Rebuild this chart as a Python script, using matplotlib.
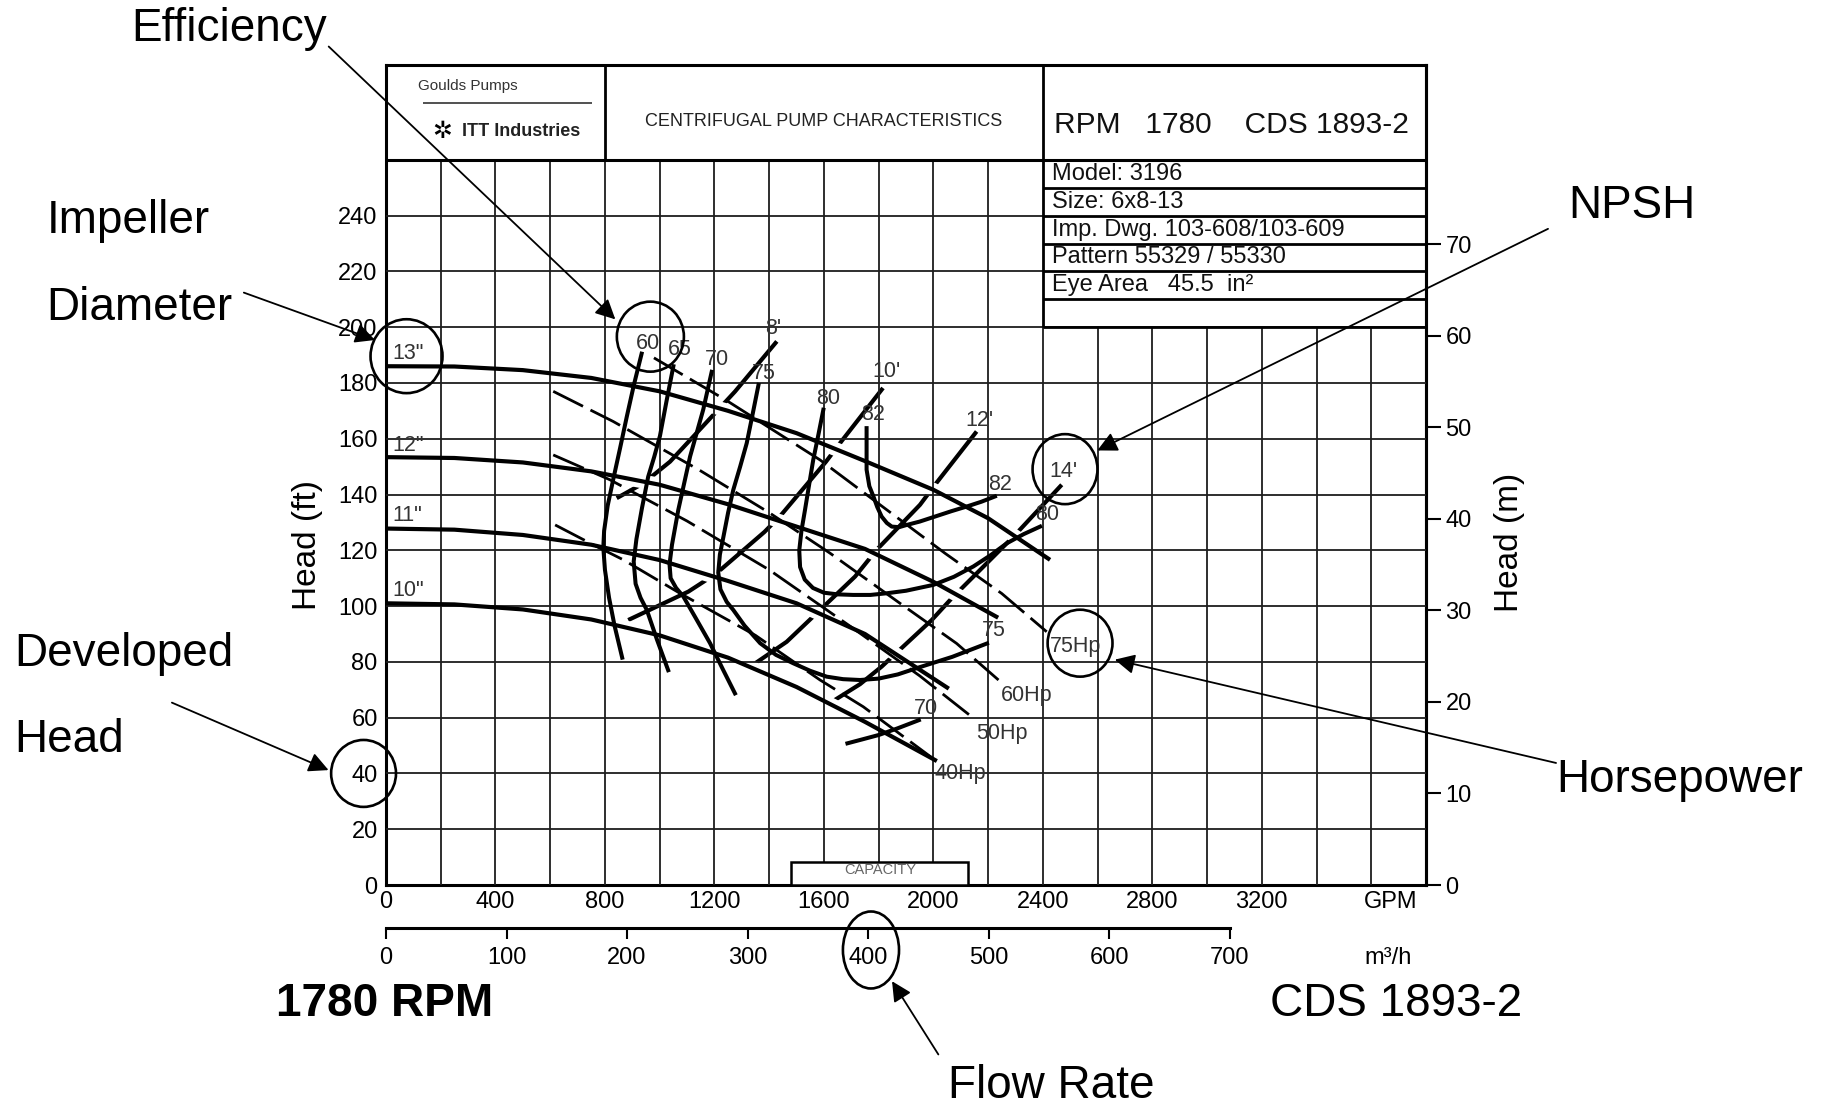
import numpy as np
import matplotlib.pyplot as plt
from matplotlib.patches import Ellipse, Rectangle

plt.rcParams['font.family'] = ['Liberation Sans', 'DejaVu Sans']

GPM_PER_M3H = 4.4029
FT_PER_M = 3.2808

# axes ticks
gpm_ticks = [0, 400, 800, 1200, 1600, 2000, 2400, 2800, 3200, 3670]
gpm_labels = ['0', '400', '800', '1200', '1600', '2000', '2400', '2800', '3200', 'GPM']
ft_ticks = list(range(0, 241, 20))
m_ticks = list(range(0, 71, 10))
m3h_ticks = list(range(0, 701, 100))

# impeller diameter curves (flow GPM, head ft)
imp_names = ['13"', '12"', '11"', '10"']
imp_label_ft = [190.5, 157.5, 132.5, 105.5]
q13 = [0, 250, 500, 750, 1000, 1250, 1500, 1750, 2000, 2200, 2420]
h13 = [186, 185.9, 184.6, 181.8, 177, 170, 162, 152, 141.7, 131.5, 117]
q12 = [0, 250, 500, 750, 1000, 1250, 1500, 1750, 2000, 2230]
h12 = [153.4, 153.1, 151.5, 148.3, 143.5, 136.5, 128.5, 120.5, 108.7, 96.2]
q11 = [0, 250, 500, 750, 1000, 1250, 1500, 1750, 2050]
h11 = [127.8, 127.4, 125.5, 122, 116.5, 109, 101, 90, 70.8]
q10 = [0, 250, 500, 750, 1000, 1250, 1500, 1750, 2006]
h10 = [101, 100.6, 98.8, 95.2, 89.5, 81.5, 71, 58.5, 44.8]

# efficiency curves
eff60_q = [934, 905, 880, 855, 830, 810, 797, 794, 800, 815, 835, 863]
eff60_h = [190.5, 179, 168, 156.5, 145.3, 136, 127, 121, 113, 103, 93, 81.5]
eff65_q = [1050, 1025, 1001, 980, 958, 935, 915, 905, 912, 930, 953, 990, 1031]
eff65_h = [186, 173.5, 161, 153.5, 146.4, 135, 124, 116, 108, 103, 98.6, 88, 77]
eff70_q = [1190, 1159, 1111, 1068, 1045, 1036, 1040, 1060, 1086, 1130, 1184, 1230, 1275]
eff70_h = [184, 170.4, 153.6, 134.5, 122, 115, 110, 106.5, 103.5, 96, 86.7, 77.5, 68.7]
eff70r_q = [1686, 1740, 1801, 1870, 1947]
eff70r_h = [50.8, 52.2, 53.8, 56.2, 59.1]
eff75_q = [1361, 1340, 1318, 1294, 1269, 1250, 1233, 1220, 1214, 1222, 1245, 1269, 1310,
           1367, 1425, 1488, 1550, 1610, 1670, 1732, 1800, 1870, 1947, 2069, 2196]
eff75_h = [179.3, 169, 158.4, 150, 141.7, 133.5, 124.9, 118.5, 112, 106, 101.5, 98.6, 93,
           86.7, 82.5, 79.5, 76.8, 74.7, 73.8, 73.5, 74, 75.5, 78, 81.8, 86.6]
eff80_q = [1598, 1580, 1561, 1546, 1531, 1518, 1510, 1513, 1530, 1560, 1600, 1650, 1707,
           1770, 1830, 1900, 2000, 2075, 2146, 2210, 2268, 2330, 2390]
eff80_h = [170.4, 161.5, 152.4, 143.5, 134.5, 127, 120, 114, 109.5, 106.5, 104.8, 104.2, 104,
           104, 104.6, 105.5, 107.6, 110.5, 114.2, 118.3, 122.5, 125.8, 128.5]
eff82_q = [1756, 1756, 1766, 1781, 1795, 1811, 1830, 1848, 1875, 1903, 1950, 2006, 2065,
           2122, 2175, 2225]
eff82_h = [163.8, 148.9, 143, 139.3, 135.5, 132.1, 129.8, 128.5, 128.3, 129.1, 130.3, 132.1,
           134, 135.7, 137.4, 139.3]
eff_label_names = ['60', '65', '70', '75', '80', '82', '82', '80', '75', '70']
eff_label_q = [958, 1074, 1208, 1379, 1616, 1781, 2244, 2414, 2220, 1973]
eff_label_h = [194.3, 191.9, 188.3, 183.5, 174.6, 168.7, 143.5, 132.7, 91.4, 63.3]

# NPSH required lines
npsh8_q = [1428, 1275, 1208, 1038, 940, 843]
npsh8_h = [194.9, 176.9, 169.8, 151.8, 144, 138.7]
npsh10_q = [1816, 1665, 1607, 1443, 1383, 1207, 1105, 885]
npsh10_h = [178.2, 159.2, 151.7, 132.6, 126.6, 111.7, 105.2, 95]
npsh12_q = [2158, 2006, 1951, 1793, 1714, 1586, 1464, 1312]
npsh12_h = [162.6, 143.5, 136.3, 120.2, 110.6, 98.6, 87.2, 77]
npsh14_q = [2469, 2304, 2268, 2067, 1994, 1811, 1732, 1610]
npsh14_h = [143.5, 126.1, 122.5, 102.8, 95, 78.3, 72, 64.5]
npsh_names = ["8'", "10'", "12'", "14'"]
npsh_label_q = [1415, 1827, 2167, 2475]
npsh_label_h = [199.7, 184, 166.6, 148.2]

# horsepower lines
hp75_q = [979, 1243, 1586, 1830, 2043, 2250, 2414]
hp75_h = [189, 173.8, 152.4, 134.5, 118.9, 104.5, 90.8]
hp60_q = [611, 830, 1146, 1400, 1622, 1878, 2085, 2238]
hp60_h = [177, 166.2, 148.7, 133.5, 119, 101, 86.6, 73.5]
hp50_q = [611, 818, 1100, 1400, 1700, 1950, 2148]
hp50_h = [154.2, 145.3, 130.5, 113, 92.5, 75, 59.7]
hp40_q = [618, 757, 867, 1074, 1350, 1586, 1744, 2006]
hp40_h = [129.1, 122, 116.6, 104.6, 89.5, 73.5, 63.9, 44.8]
hp_names = ['75Hp', '60Hp', '50Hp', '40Hp']
hp_label_q = [2518, 2341, 2250, 2097]
hp_label_h = [85.5, 68.1, 54.4, 40.1]

info_rows = ['Model: 3196', 'Size: 6x8-13', 'Imp. Dwg. 103-608/103-609',
             'Pattern 55329 / 55330', 'Eye Area   45.5  in\u00b2']
info_row_h = [255, 245, 235, 225, 215]

fig = plt.figure(figsize=(18.21, 11.13), dpi=100)
ax = fig.add_axes([386 / 1821, 1 - 885 / 1113, 1040 / 1821, 820 / 1113])
ax.set_xlim(0, 3800)
ax.set_ylim(0, 294)
for s in ax.spines.values():
    s.set_linewidth(2.2)

# grid
grid_q = np.arange(200, 3800, 200)
grid_h = np.arange(20, 260, 20)
ax.vlines(grid_q, 0, np.where(grid_q < 2400, 260, 200), color='#1e1e1e', lw=1.3, zorder=2.7)
ax.hlines(grid_h, 0, np.where(grid_h <= 200, 3800, 2400), color='#1e1e1e', lw=1.3, zorder=2.7)

# header and info box
ax.hlines(260, 0, 3800, color='black', lw=2.2, zorder=3)
ax.vlines(800, 260, 294, color='black', lw=2, zorder=3)
ax.vlines(2400, 200, 294, color='black', lw=2, zorder=3)
ax.hlines([200, 210, 220, 230, 240, 250], 2400, 3800, color='black', lw=2, zorder=3)
ax.text(300, 286.5, 'Goulds Pumps', ha='center', va='center', fontsize=11, color='#333')
ax.hlines(280.3, 136, 753, color='#333', lw=1.2)
ax.text(205, 270.5, '\u2732', ha='center', va='center', fontsize=17, family=['DejaVu Sans'])
ax.text(495, 270.3, 'ITT Industries', ha='center', va='center', fontsize=13,
        fontweight='bold', color='#222')
ax.text(1600, 273.6, 'CENTRIFUGAL PUMP CHARACTERISTICS', ha='center', va='center',
        fontsize=13, color='#222')
ax.text(2440, 272.4, 'RPM   1780    CDS 1893-2', ha='left', va='center', fontsize=21.5,
        color='#111')
for txt, h in zip(info_rows, info_row_h):
    ax.text(2435, h, txt, ha='left', va='center', fontsize=17, color='#111')

# capacity box
ax.add_patch(Rectangle((1480, 0), 645, 8.3, facecolor='white', edgecolor='black', lw=1.8,
                       zorder=5, clip_on=False))
ax.text(1805, 5.4, 'CAPACITY', ha='center', va='center', fontsize=10.5, color='#666', zorder=6)

# NPSH lines (broken where head curves cross, via white halo)
for q, h in [(npsh8_q, npsh8_h), (npsh10_q, npsh10_h), (npsh12_q, npsh12_h), (npsh14_q, npsh14_h)]:
    ax.plot(q, h, color='black', lw=3.0, solid_capstyle='butt', zorder=2)

imp_curves = [(q13, h13), (q12, h12), (q11, h11), (q10, h10)]
for q, h in imp_curves:
    ax.plot(q, h, color='white', lw=10, solid_capstyle='butt', zorder=2.5)
    ax.plot(q, h, color='black', lw=3.0, solid_joinstyle='round', zorder=4)

# horsepower lines
for q, h in [(hp75_q, hp75_h), (hp60_q, hp60_h), (hp50_q, hp50_h), (hp40_q, hp40_h)]:
    ax.plot(q, h, color='black', lw=2.0, dashes=(12, 3), zorder=3)

# efficiency curves
for q, h in [(eff60_q, eff60_h), (eff65_q, eff65_h), (eff70_q, eff70_h), (eff70r_q, eff70r_h),
             (eff75_q, eff75_h), (eff80_q, eff80_h), (eff82_q, eff82_h)]:
    ax.plot(q, h, color='black', lw=2.9, solid_joinstyle='round', zorder=4)

# curve labels
lab = dict(ha='center', va='center', fontsize=15.5, color='#333', zorder=6)
for name, h in zip(imp_names, imp_label_ft):
    ax.text(25, h, name, ha='left', va='center', fontsize=15.5, color='#333', zorder=6)
for name, q, h in zip(eff_label_names, eff_label_q, eff_label_h):
    ax.text(q, h, name, **lab)
for name, q, h in zip(npsh_names, npsh_label_q, npsh_label_h):
    ax.text(q, h, name, **lab)
for name, q, h in zip(hp_names, hp_label_q, hp_label_h):
    ax.text(q, h, name, **lab)

# axes ticks and labels
ax.set_xticks(gpm_ticks)
ax.set_xticklabels(gpm_labels)
ax.set_yticks(ft_ticks)
ax.tick_params(axis='x', length=0, pad=4, labelsize=17)
ax.tick_params(axis='y', length=0, pad=6, labelsize=17)

sec_y = ax.secondary_yaxis('right', functions=(lambda h: h / FT_PER_M, lambda m: m * FT_PER_M))
sec_y.set_yticks(m_ticks)
sec_y.tick_params(length=11, width=1.5, pad=3, labelsize=17)
sec_y.spines['right'].set_linewidth(2.2)

sec_x = ax.secondary_xaxis(-43 / 820, functions=(lambda q: q / GPM_PER_M3H,
                                                 lambda m: m * GPM_PER_M3H))
sec_x.set_xticks(m3h_ticks)
sec_x.spines['bottom'].set_bounds(0, 700)
sec_x.spines['bottom'].set_linewidth(2.2)
sec_x.tick_params(length=8, width=1.5, pad=6, labelsize=17)
ax.text(3660, -26.2, 'm\u00b3/h', ha='center', va='center', fontsize=17)

ax.text(-286, 122, 'Head (ft)', rotation=90, ha='center', va='center', fontsize=24)
ax.text(4106, 123, 'Head (m)', rotation=90, ha='center', va='center', fontsize=24)

# highlight circles
circles = [((75, 189.6), 263, 26.5), ((966, 196.6), 245, 25.1), ((2481, 149.1), 237, 25.1),
           ((2536, 86.7), 237, 24), ((-82, 40), 237, 24), ((1772, -23.3), 205, 27.6)]
for c, w, h in circles:
    ax.add_patch(Ellipse(c, w, h, fill=False, edgecolor='black', lw=1.9, clip_on=False, zorder=7))

# call-outs
callouts = [
    ('Efficiency', (0.1256, 0.974), 'center', (0.1805, 0.9582), (838, 202.8)),
    ('Impeller', (0.0255, 0.8018), 'left', None, None),
    ('Diameter', (0.0255, 0.7235), 'left', (0.1339, 0.7371), (-40, 195.4)),
    ('Developed', (0.0077, 0.4126), 'left', (0.0944, 0.3687), (-210, 41.2)),
    ('Head', (0.0077, 0.3353), 'left', None, None),
    ('NPSH', (0.896, 0.8153), 'center', (0.8501, 0.7944), (2599, 155.8)),
    ('Horsepower', (0.9222, 0.2988), 'center', (0.8545, 0.3145), (2663, 80.8)),
    ('Flow Rate', (0.5772, 0.0244), 'center', (0.5153, 0.0526), (1849, -34.5)),
]
for txt, pos, ha, start, target in callouts:
    fig.text(pos[0], pos[1], txt, ha=ha, va='center', fontsize=33)
    if start is not None:
        ax.annotate('', xy=target, xycoords='data', xytext=start, textcoords='figure fraction',
                    annotation_clip=False,
                    arrowprops=dict(arrowstyle='-|>', color='black', lw=1.3,
                                    mutation_scale=30, shrinkA=0, shrinkB=0))

fig.text(0.2111, 0.0975, '1780 RPM', ha='center', va='center', fontsize=33, fontweight='bold')
fig.text(0.7666, 0.0975, 'CDS 1893-2', ha='center', va='center', fontsize=33)

fig.savefig('out.png', dpi=100)
